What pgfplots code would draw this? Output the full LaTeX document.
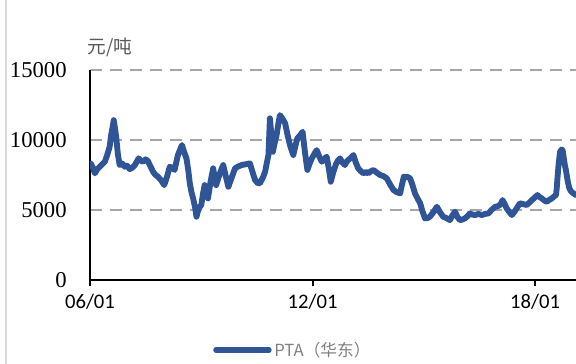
\documentclass[border=0pt]{standalone}
\usepackage{pgfplots}
\pgfplotsset{compat=1.18}
\usepackage{fontspec}
\setmainfont{Liberation Serif}
\newfontfamily\cjk{Noto Sans CJK SC}
\newfontfamily\calib{Carlito}
\definecolor{ptablue}{HTML}{2F5597}
\definecolor{gridgray}{HTML}{A6A6A6}
\definecolor{txtgray}{HTML}{595959}

\begin{document}
\begin{tikzpicture}
  % canvas: 576x364 px at 0.75pt/px
  \path[use as bounding box] (-67.5pt,-63.2pt) rectangle (364.5pt,209.8pt);
  \draw[black!15, line width=1pt] (-63pt,-63.2pt) -- (-63pt,209.8pt);
  \begin{axis}[
    scale only axis,
    width=364.5pt, height=157.5pt,
    xmin=2006, xmax=2019.1,
    ymin=0, ymax=15000,
    axis x line=bottom, axis y line=left,
    axis line style={-, line width=1.5pt, black},
    xtick={2006,2012,2018},
    xticklabels={06/01,12/01,18/01},
    ytick={0,5000,10000,15000},
    yticklabels={0,5000,10000,15000},
    scaled y ticks=false,
    xticklabel style={font=\calib\fontsize{15.5}{16}\selectfont, yshift=-2pt},
    yticklabel style={font=\fontsize{17}{18}\selectfont, xshift=-9pt},
    x tick style={black, line width=1.5pt},
    tick align=outside,
    major tick length=5pt,
    y tick style={draw=none},
    ymajorgrids,
    grid style={gridgray, line width=1.5pt, dash pattern=on 9pt off 6pt},
    legend style={at={(0.253,0)}, anchor=west, yshift=-52.7pt, draw=none,
      fill=none, inner sep=0pt,
      font=\cjk\fontsize{12.5}{13}\selectfont\color{black!50}},
    legend image code/.code={\draw[line width=3.8pt, line cap=round, ptablue]
      (0pt,0pt) -- (40pt,0pt);},
    clip=true,
  ]
    \addplot[ptablue, line width=4.4pt, line join=round, line cap=round] coordinates {
      (2006.02,8300) (2006.08,8000) (2006.13,7600) (2006.20,7900) (2006.26,8070)
      (2006.33,8250) (2006.40,8430) (2006.45,8800)
      (2006.49,9140) (2006.53,9500) (2006.57,10340) (2006.61,10900) (2006.64,11400)
      (2006.68,10700) (2006.71,10100) (2006.75,9000)
      (2006.80,8190) (2006.87,8300) (2006.94,8070) (2007.00,8150) (2007.07,7900)
      (2007.14,8000) (2007.21,8190)
      (2007.31,8670) (2007.37,8500) (2007.43,8430) (2007.50,8600) (2007.56,8480)
      (2007.63,8100) (2007.70,7710) (2007.76,7500)
      (2007.83,7360) (2007.92,7100) (2008.00,6760) (2008.07,7300) (2008.15,8070)
      (2008.22,8000) (2008.28,7840)
      (2008.37,8910) (2008.43,9300) (2008.48,9620) (2008.54,9100) (2008.60,8670)
      (2008.65,7800) (2008.69,6890) (2008.74,6200)
      (2008.78,5810) (2008.83,5200) (2008.87,4500) (2008.93,5100) (2009.00,5340)
      (2009.05,6200) (2009.09,6760) (2009.14,6300)
      (2009.18,5810) (2009.25,7000) (2009.32,7960) (2009.36,7300) (2009.40,6760)
      (2009.50,7600) (2009.59,8190) (2009.66,7400)
      (2009.73,6640) (2009.82,7300) (2009.91,7960) (2010.00,8100) (2010.09,8190)
      (2010.20,8250) (2010.31,8310) (2010.38,7700)
      (2010.45,7120) (2010.52,6900) (2010.58,6890) (2010.66,7300) (2010.72,7710)
      (2010.77,8400) (2010.81,8910) (2010.83,10200)
      (2010.85,11530) (2010.89,10300) (2010.93,9140) (2010.98,9800) (2011.03,10340)
      (2011.08,11200) (2011.12,11760) (2011.19,11500)
      (2011.26,11170) (2011.32,10400) (2011.39,9620) (2011.44,9200) (2011.48,8910)
      (2011.54,9600) (2011.59,10100) (2011.66,10300)
      (2011.73,10570) (2011.79,9200) (2011.86,7840) (2011.92,8300) (2011.98,8670)
      (2012.05,9000) (2012.11,9260) (2012.18,8800)
      (2012.25,8430) (2012.31,8600) (2012.38,8790) (2012.44,7900) (2012.49,7000)
      (2012.56,7700) (2012.63,8250) (2012.68,8500)
      (2012.74,8670) (2012.80,8400) (2012.87,8190) (2012.91,8400) (2012.96,8550)
      (2013.03,8700) (2013.10,8910) (2013.16,8400)
      (2013.23,7960) (2013.30,7750) (2013.37,7600) (2013.44,7700) (2013.50,7600)
      (2013.57,7750) (2013.64,7840) (2013.73,7650)
      (2013.82,7480) (2013.91,7400) (2014.00,7240) (2014.09,6800) (2014.18,6410)
      (2014.27,6250) (2014.36,6170) (2014.41,6800)
      (2014.46,7360) (2014.55,7350) (2014.63,7240) (2014.70,6700) (2014.76,6170)
      (2014.83,5800) (2014.90,5460) (2014.96,4900)
      (2015.03,4390) (2015.10,4400) (2015.16,4500) (2015.25,4800) (2015.35,5210)
      (2015.44,4800) (2015.52,4500) (2015.61,4400)
      (2015.70,4260) (2015.77,4600) (2015.84,4860) (2015.90,4500) (2015.97,4260)
      (2016.04,4300) (2016.11,4390) (2016.18,4550)
      (2016.24,4740) (2016.31,4650) (2016.38,4620) (2016.47,4700) (2016.56,4620)
      (2016.65,4700) (2016.74,4740) (2016.83,5000)
      (2016.92,5210) (2016.99,5250) (2017.05,5340) (2017.09,5500) (2017.12,5690)
      (2017.18,5400) (2017.23,5100) (2017.30,4850)
      (2017.37,4620) (2017.44,4850) (2017.50,5100) (2017.55,5300) (2017.59,5460)
      (2017.68,5400) (2017.77,5340) (2017.84,5500)
      (2017.91,5690) (2017.98,5850) (2018.06,6050) (2018.12,5900) (2018.18,5810)
      (2018.25,5650) (2018.31,5570) (2018.38,5700)
      (2018.45,5810) (2018.51,5950) (2018.56,6050) (2018.58,6500) (2018.60,7240)
      (2018.63,8200) (2018.67,9140) (2018.71,9300)
      (2018.74,9260) (2018.77,8700) (2018.80,8190) (2018.83,7800) (2018.85,7480)
      (2018.88,7000) (2018.92,6530) (2018.97,6300)
      (2019.03,6170) (2019.10,6050)
    };
    \addlegendentry{PTA（华东）}
  \end{axis}
  \node[font=\cjk\fontsize{14}{15}\selectfont, text=txtgray] at (15pt,174.5pt) {元/吨};
\end{tikzpicture}
\end{document}
